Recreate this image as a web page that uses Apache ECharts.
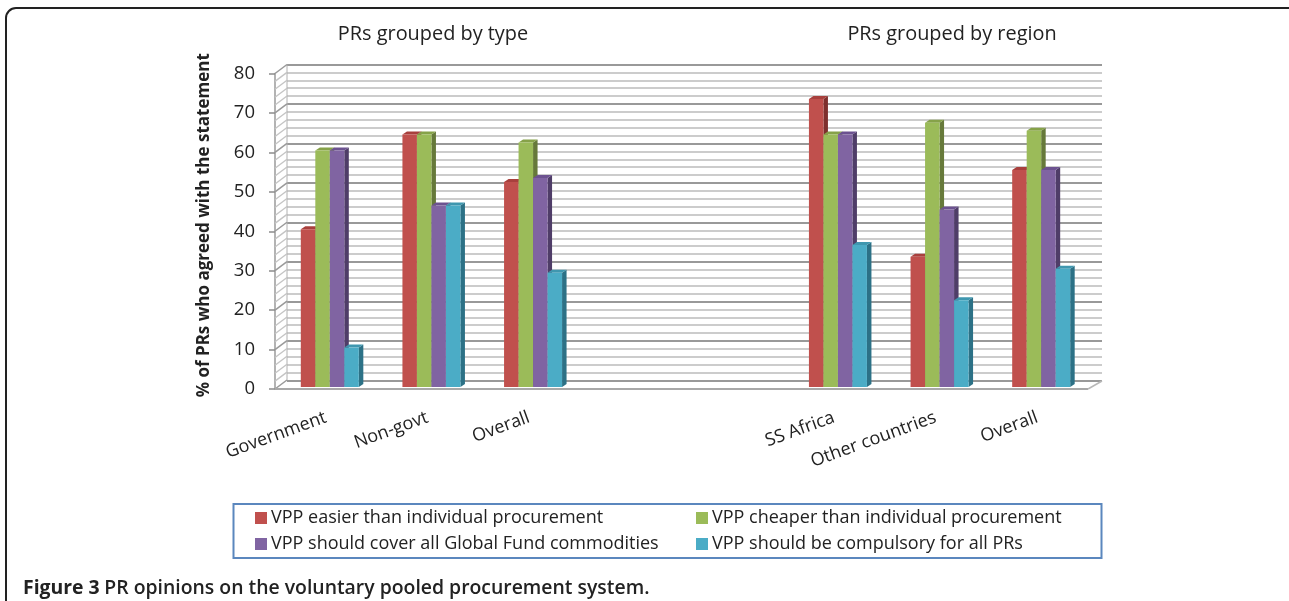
<!DOCTYPE html>
<html>
<head>
<meta charset="utf-8">
<style>html,body{margin:0;padding:0;background:#fff}#c{width:1289px;height:601px}</style>
<script src="https://cdn.jsdelivr.net/npm/echarts@6/dist/echarts.min.js"></script>
</head>
<body>
<div id="c"></div>
<script>
const categories = ['Government','Non-govt','Overall','','','SS Africa','Other countries','Overall'];
const easier  = [40,64,52,null,null,73,33,55];
const cheaper = [60,64,62,null,null,64,67,65];
const cover   = [60,46,53,null,null,64,45,55];
const compuls = [10,46,29,null,null,36,22,30];
const names = ['VPP easier than individual procurement','VPP cheaper than individual procurement','VPP should cover all Global Fund commodities','VPP should be compulsory for all PRs'];
const wallTicks = [0,2,4,6,8,10,12,14,16,18,20,22,24,26,28,30,32,34,36,38,40,42,44,46,48,50,52,54,56,58,60,62,64,66,68,70,72,74,76,78,80];
const FONT = '"Open Sans"';
const front = ['#C0504D','#9BBB59','#8064A2','#4BACC6'];
const side  = ['#7E2F2D','#66793A','#4F3D68','#2C7186'];
const topc  = ['#A8403D','#86A249','#6C5290','#3F97AF'];

function barSeries(name, values, idx){
  return {
    type:'custom', name, xAxisIndex:0, yAxisIndex:0, z:5,
    itemStyle:{color:front[idx]},
    data: values.map((v,i)=>[i,v]).filter(d=>d[1]!==null),
    encode:{x:0,y:1},
    renderItem(params, api){
      const band = api.size([1,0])[0];
      const w = band*0.1427;
      const c = api.coord([api.value(0), api.value(1)]);
      const b = api.coord([api.value(0), 0]);
      const ox = 4, oy = -2, dx = 4.5, dy = -3;
      const x0 = c[0]+ox-2*w+idx*w, x1 = x0+w, yt = c[1]+oy, yb = b[1]+oy;
      return {type:'group',children:[
        {type:'polygon',shape:{points:[[x1,yt],[x1+dx,yt+dy],[x1+dx,yb+dy],[x1,yb]]},style:{fill:side[idx]}},
        {type:'polygon',shape:{points:[[x0,yt],[x0+dx,yt+dy],[x1+dx,yt+dy],[x1,yt]]},style:{fill:topc[idx]}},
        {type:'rect',shape:{x:x0,y:yt,width:w,height:yb-yt},style:{fill:front[idx]}}
      ]};
    }
  };
}

const option = {
  animation:false,
  backgroundColor:'#fff',
  textStyle:{fontFamily:FONT},
  title:[
    {text:'PRs grouped by type',left:428,top:19,textAlign:'center',textStyle:{fontFamily:FONT,fontSize:19.9,fontWeight:'normal',color:'#222'}},
    {text:'PRs grouped by region',left:947,top:19,textAlign:'center',textStyle:{fontFamily:FONT,fontSize:19.9,fontWeight:'normal',color:'#222'}},
    {text:'{b|Figure 3} {n|PR opinions on the voluntary pooled procurement system.}',left:18,top:574,
     textStyle:{rich:{b:{fontFamily:FONT,fontSize:19.4,fontWeight:'bold',color:'#222'},n:{fontFamily:FONT,fontSize:19.4,fontWeight:600,color:'#222'}}}}
  ],
  legend:[
    {data:[names[0],names[2]],left:255,top:509,orient:'vertical',icon:'rect',itemWidth:12,itemHeight:12,itemGap:8,padding:0,
     textStyle:{fontFamily:FONT,fontSize:18,color:'#222',padding:[0,0,0,-1]},selectedMode:false},
    {data:[names[1],names[3]],left:696,top:509,orient:'vertical',icon:'rect',itemWidth:12,itemHeight:12,itemGap:8,padding:0,
     textStyle:{fontFamily:FONT,fontSize:18,color:'#222',padding:[0,0,0,-1]},selectedMode:false}
  ],
  graphic:[
    {type:'rect',z:-10,shape:{x:6,y:8,width:1300,height:700,r:10},style:{fill:'none',stroke:'#222',lineWidth:2}},
    {type:'rect',z:-10,shape:{x:233.5,y:504,width:868,height:54},style:{fill:'#fff',stroke:'#5B87BE',lineWidth:2}}
  ],
  grid:[
    {left:275,right:201,top:73.5,bottom:212},
    {left:287,right:187,top:64.5,bottom:220.5}
  ],
  xAxis:[
    {type:'category',gridIndex:0,data:categories,
     axisLine:{show:false},axisTick:{show:false},
     axisLabel:{interval:0,rotate:20,margin:28,fontFamily:FONT,fontSize:18,color:'#222'}},
    {type:'category',gridIndex:1,data:categories,show:false}
  ],
  yAxis:[
    {type:'value',gridIndex:0,min:0,max:80,interval:10,
     name:'% of PRs who agreed with the statement',nameLocation:'middle',nameGap:62,
     nameTextStyle:{fontFamily:FONT,fontSize:17,fontWeight:'bold',color:'#222',padding:[0,0,0,12]},
     axisLine:{show:true,lineStyle:{color:'#9a9a9a',width:1.5}},
     axisTick:{show:true,length:6,lineStyle:{color:'#8c8c8c',width:1.5}},
     splitLine:{show:false},
     axisLabel:{margin:20,fontFamily:FONT,fontSize:18.5,color:'#222',padding:[3,0,0,0]}},
    {type:'value',gridIndex:1,min:0,max:80,interval:10,
     axisLine:{show:false},axisTick:{show:false},axisLabel:{show:false},
     minorTick:{show:false,splitNumber:5},
     splitLine:{show:true,lineStyle:{color:'#999999',width:2}},
     minorSplitLine:{show:true,lineStyle:{color:'#cccccc',width:2}}}
  ],
  series:[
    {type:'custom',xAxisIndex:0,yAxisIndex:0,z:2,silent:true,
     data:wallTicks.map(v=>[0,v]),encode:{y:1},
     renderItem(params,api){
       const y = api.coord([0,api.value(1)])[1];
       const x = params.coordSys.x;
       const major = api.value(1)%10===0;
       return {type:'group',children:[
         {type:'line',shape:{x1:x,y1:y,x2:x+12,y2:y-9},style:{stroke:major?'#9a9a9a':'#c4c4c4',lineWidth:major?1.5:1.3}}
       ].concat(api.value(1)===0?[
         {type:'line',shape:{x1:x+12,y1:y-9,x2:x+12,y2:params.coordSys.y-9},style:{stroke:'#b0b0b0',lineWidth:1}},
         {type:'line',shape:{x1:x,y1:y,x2:x+params.coordSys.width,y2:y},style:{stroke:'#a8a8a8',lineWidth:2.2}},
         {type:'line',shape:{x1:x+params.coordSys.width,y1:y,x2:x+params.coordSys.width+14,y2:y-8},style:{stroke:'#b8b8b8',lineWidth:1.5}}
       ]:[])};
     }},
    barSeries(names[0],easier,0),
    barSeries(names[1],cheaper,1),
    barSeries(names[2],cover,2),
    barSeries(names[3],compuls,3)
  ]
};
const chart = echarts.init(document.getElementById('c'),null,{renderer:'canvas'});
chart.setOption(option);
</script>
</body>
</html>
